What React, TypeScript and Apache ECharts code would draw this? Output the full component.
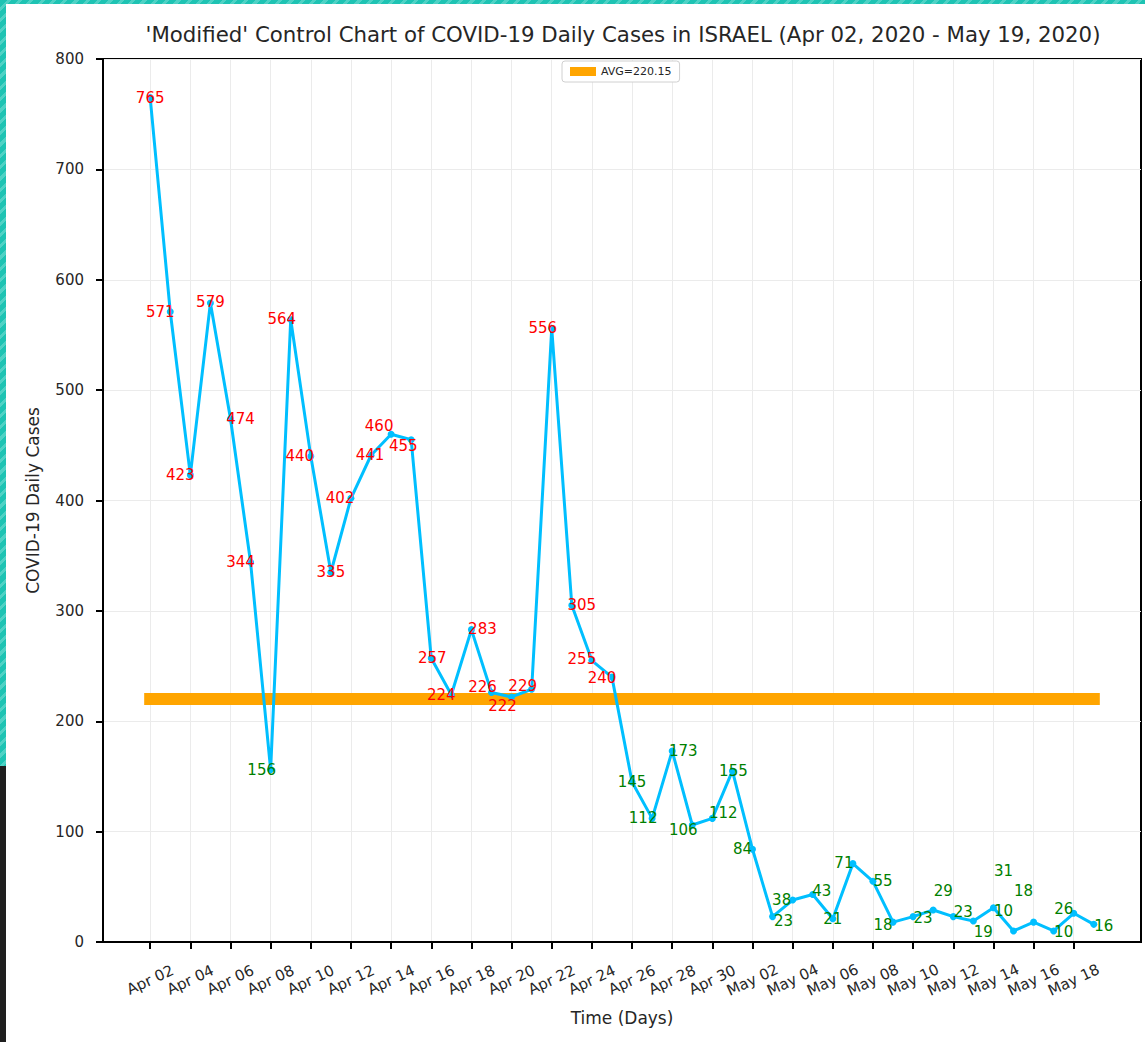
import React, { useEffect, useRef } from "react";
import * as echarts from "echarts";

const DATES = [
  "Apr 02", "Apr 03", "Apr 04", "Apr 05", "Apr 06", "Apr 07", "Apr 08", "Apr 09", "Apr 10",
  "Apr 11", "Apr 12", "Apr 13", "Apr 14", "Apr 15", "Apr 16", "Apr 17", "Apr 18", "Apr 19",
  "Apr 20", "Apr 21", "Apr 22", "Apr 23", "Apr 24", "Apr 25", "Apr 26", "Apr 27", "Apr 28",
  "Apr 29", "Apr 30", "May 01", "May 02", "May 03", "May 04", "May 05", "May 06", "May 07",
  "May 08", "May 09", "May 10", "May 11", "May 12", "May 13", "May 14", "May 15", "May 16",
  "May 17", "May 18", "May 19",
];

const CASES = [
  765, 571, 423, 579, 474, 344, 156, 564, 440, 335, 402, 441, 460, 455, 257, 224, 283, 226,
  222, 229, 556, 305, 255, 240, 145, 112, 173, 106, 112, 155, 84, 23, 38, 43, 21, 71, 55, 18,
  23, 29, 23, 19, 31, 10, 18, 10, 26, 16,
];

const AVG = 220.15;
const Y_TICKS = [0, 100, 200, 300, 400, 500, 600, 700, 800];
const X_TICK_INDEXES = [0, 2, 4, 6, 8, 10, 12, 14, 16, 18, 20, 22, 24, 26, 28, 30, 32, 34, 36, 38, 40, 42, 44, 46];

// label placement (pixel offsets of each value label from its point), as in the reference
const LABEL_OFFSETS: [number, number][] = [
  [0, 0], [-10, 0], [-10, 0], [0, -1], [10, 0], [-10, 0], [-9, 0], [-9, 0], [-11, 0], [0, 0],
  [-11, 0], [-1, 0], [-12, -8], [-8, 6], [1, 0], [-10, 0], [11, -1], [-9, -6], [-9, 9], [-9, -3],
  [-9, 0], [10, 0], [-10, -2], [-10, 1], [0, 0], [-9, 0], [11, 0], [-9, 5], [11, -5], [1, 0],
  [-10, 0], [11, 4], [-11, 0], [9, -4], [0, 0], [-9, -1], [10, 0], [-10, 3], [10, 1], [10, -19],
  [10, -5], [10, 11], [10, -37], [-10, -20], [-10, -31], [10, 1], [-10, -4], [10, 2],
];

const FONT = "'DejaVu Sans', sans-serif";
const TEXT = "#262626";

export default function App() {
  const ref = useRef<HTMLDivElement>(null);

  useEffect(() => {
    if (!ref.current) return;
    const chart = echarts.init(ref.current, null, { renderer: "svg" });

    const seriesData = CASES.map((v, i) => ({
      value: [i, v],
      label: {
        color: v > AVG ? "#ff0000" : "#008000",
      },
    }));

    chart.setOption({
      animation: false,
      backgroundColor: "#ffffff",
      title: {
        text: "'Modified' Control Chart of COVID-19 Daily Cases in ISRAEL (Apr 02, 2020 - May 19, 2020)",
        left: 618,
        textAlign: "center",
        top: 19,
        textStyle: { fontFamily: FONT, fontSize: 21.3, fontWeight: "normal", color: TEXT },
      },
      legend: {
        top: 61,
        left: 562,
        data: [{ name: "AVG=220.15", icon: "rect" }],
        itemWidth: 26,
        itemHeight: 9,
        itemGap: 8,
        padding: [5, 8, 5, 8],
        borderColor: "#d0d0d0",
        borderWidth: 1,
        borderRadius: 3,
        backgroundColor: "#ffffff",
        textStyle: { fontFamily: FONT, fontSize: 11, color: TEXT },
      },
      grid: {
        left: 103,
        right: 4,
        top: 59,
        bottom: 100,
        show: true,
        borderColor: "#000000",
        borderWidth: 2,
        backgroundColor: "transparent",
      },
      xAxis: {
        type: "value",
        min: -2.35,
        max: 49.35,
        name: "Time (Days)",
        nameLocation: "middle",
        nameGap: 67,
        nameTextStyle: { fontFamily: FONT, fontSize: 17, color: TEXT },
        axisLine: { show: true, onZero: false, lineStyle: { color: "#000", width: 2 } },
        axisTick: {
          show: true,
          length: 7,
          customValues: X_TICK_INDEXES,
          lineStyle: { color: "#000", width: 2 },
        },
        axisLabel: {
          customValues: X_TICK_INDEXES,
          formatter: (v: number) => DATES[Math.round(v)] ?? "",
          rotate: 25,
          align: "center",
          verticalAlign: "middle",
          margin: 38,
          fontFamily: FONT,
          fontSize: 15,
          color: TEXT,
        },
        splitLine: { show: true, lineStyle: { color: "#ebebeb", width: 1 } },
      },
      yAxis: {
        type: "value",
        min: 0,
        max: 800,
        interval: 100,
        name: "COVID-19 Daily Cases",
        nameLocation: "middle",
        nameGap: 62,
        nameRotate: 90,
        nameTextStyle: { fontFamily: FONT, fontSize: 17, color: TEXT },
        axisLine: { show: true, onZero: false, lineStyle: { color: "#000", width: 2 } },
        axisTick: { show: true, length: 7, lineStyle: { color: "#000", width: 2 } },
        axisLabel: {
          margin: 19,
          fontFamily: FONT,
          fontSize: 15,
          color: TEXT,
          formatter: (v: number) => (Y_TICKS.includes(v) ? String(v) : ""),
        },
        splitLine: { show: true, lineStyle: { color: "#ebebeb", width: 1 } },
      },
      series: [
        {
          name: "AVG=220.15",
          type: "line",
          data: [
            [0, AVG],
            [CASES.length - 1, AVG],
          ],
          showSymbol: false,
          symbol: "none",
          lineStyle: { color: "#ffa500", width: 12, cap: "square" },
          itemStyle: { color: "#ffa500" },
          z: 2,
          silent: true,
        },
        {
          name: "cases",
          type: "line",
          data: seriesData,
          symbol: "circle",
          symbolSize: 7,
          lineStyle: { color: "#00bfff", width: 3 },
          itemStyle: { color: "#00bfff" },
          z: 3,
          label: {
            show: true,
            position: "inside",
            fontFamily: FONT,
            fontSize: 15,
          },
          labelLayout: (params: any) => {
            const off = LABEL_OFFSETS[params.dataIndex] || [0, 0];
            return { dx: off[0], dy: off[1], hideOverlap: false };
          },
        },
      ],
    });

    return () => chart.dispose();
  }, []);

  const stripe = "repeating-linear-gradient(135deg, #1ec3b3 0px, #1ec3b3 5px, #4fd2c5 5px, #4fd2c5 8px)";

  return (
    <div style={{ position: "absolute", left: 0, top: 0, width: 1145, height: 1042, background: "#fff", overflow: "hidden" }}>
      <div ref={ref} style={{ position: "absolute", left: 0, top: 0, width: 1145, height: 1042 }} />
      <div style={{ position: "absolute", left: 0, top: 0, width: 1145, height: 4, background: stripe }} />
      <div style={{ position: "absolute", left: 0, top: 0, width: 6, height: 766, background: stripe }} />
      <div style={{ position: "absolute", left: 0, top: 766, width: 6, height: 276, background: "#1f1f1f" }} />
    </div>
  );
}
